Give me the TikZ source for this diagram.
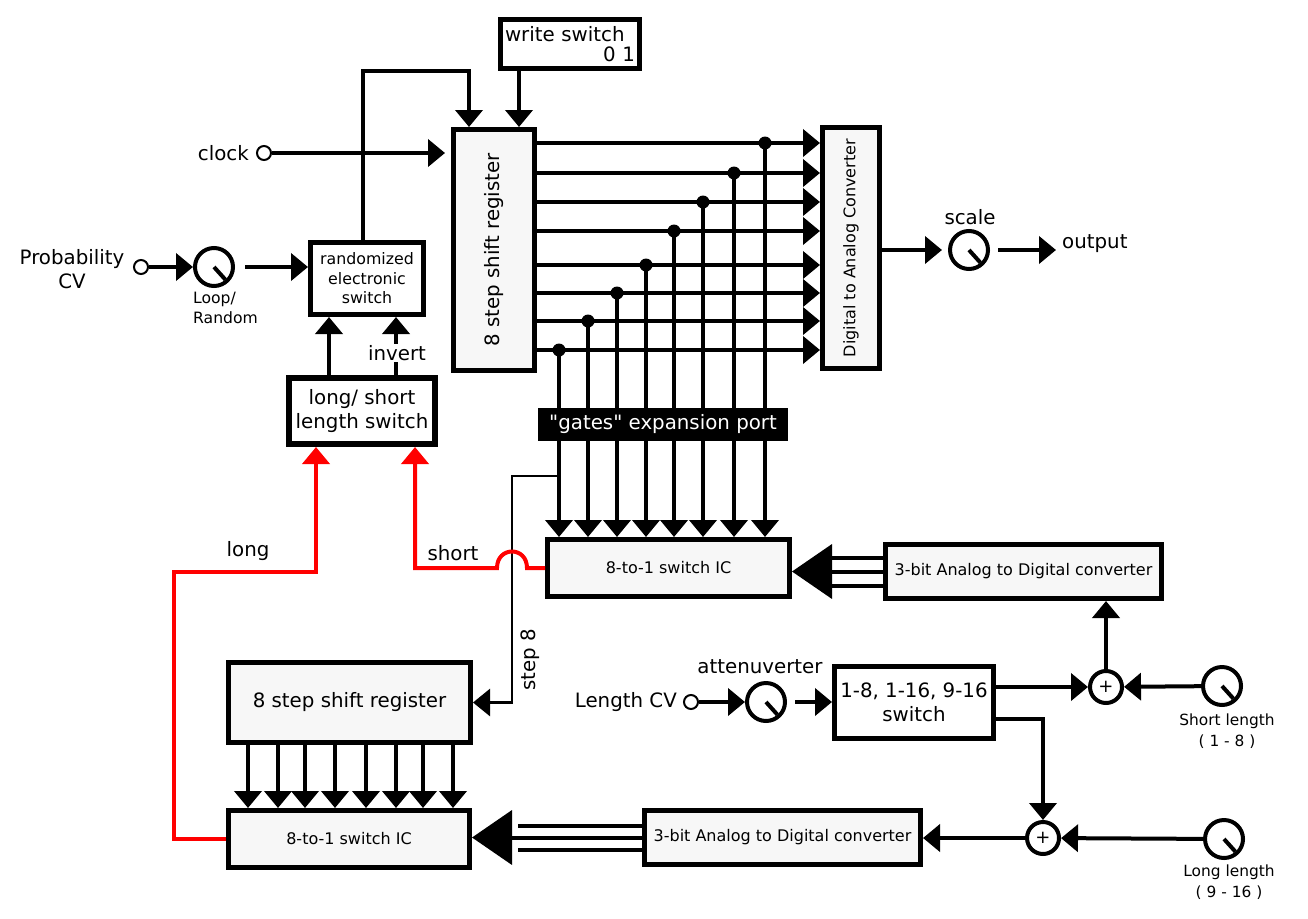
\documentclass[tikz,border=0pt]{standalone}
\usepackage{fontspec}
\setmainfont{DejaVu Sans}
\usetikzlibrary{arrows.meta,calc}
\definecolor{boxgray}{HTML}{F7F7F7}

\begin{document}
\begin{tikzpicture}[x=1pt,y=-1pt,
  box/.style={draw,line width=5pt,fill=boxgray,inner sep=0pt,align=center},
  wbox/.style={box,fill=white},
  bigtext/.style={font=\fontsize{19.8}{24}\selectfont},
  smalltext/.style={font=\fontsize{16}{19.5}\selectfont},
  lbl/.style={bigtext,inner sep=0pt,align=center},
  arrowhead/.style={-{Triangle[length=17pt,width=27pt]}},
  conn/.style={line width=4pt,arrowhead},
  redconn/.style={conn,draw=red},
  tapline/.style={line width=2.7pt,arrowhead},
  bus/.style={line width=4pt},
  bustip/.style={line width=4pt,-{Triangle[length=40pt,width=54pt]}},
  knob/.style={circle,draw,line width=4pt,minimum size=38pt,inner sep=0pt,
    path picture={\draw[line width=4pt] (path picture bounding box.center) -- ++(-48:17pt);}},
  jack/.style={circle,draw,line width=2pt,minimum size=14pt,inner sep=0pt},
  adder/.style={circle,draw,line width=4pt,minimum size=32pt,inner sep=0pt,font=\fontsize{18}{18}\selectfont}]
  \useasboundingbox (0,0) rectangle (1308,918);

  % blocks
  \node[wbox,minimum width=139pt,minimum height=49pt,text width=130pt,align=left,
        font=\fontsize{19.8}{20}\selectfont] (wsw) at (570,44) {write switch\\\hfill 0 1};
  \node[box,minimum width=81pt,minimum height=241pt,
        label={[rotate=90,lbl]center:8 step shift register}] (sr1) at (494,250) {};
  \node[box,minimum width=57pt,minimum height=241pt,
        label={[rotate=90,lbl,smalltext]center:Digital to Analog Converter}] (dac) at (851,248) {};
  \node[wbox,minimum width=113pt,minimum height=72pt,font=\fontsize{15.8}{19.5}\selectfont] (rnd) at (367,278.5) {randomized\\electronic\\switch};
  \node[wbox,line width=6pt,minimum width=146pt,minimum height=66pt,bigtext] (lss) at (362,411) {long/ short\\length switch};
  \node[box,minimum width=242pt,minimum height=57pt,smalltext] (mux1) at (668.5,568) {8-to-1 switch IC};
  \node[box,minimum width=276pt,minimum height=54pt,smalltext] (adc1) at (1023.5,571.5) {3-bit Analog to Digital converter};
  \node[wbox,minimum width=159pt,minimum height=72pt,bigtext] (lsel) at (914,702.5) {1-8, 1-16, 9-16\\switch};
  \node[box,minimum width=242pt,minimum height=80pt,bigtext] (sr2) at (349.5,702.5) {8 step shift register};
  \node[box,minimum width=241pt,minimum height=57pt,smalltext] (mux2) at (349,839) {8-to-1 switch IC};
  \node[box,minimum width=276pt,minimum height=54pt,smalltext] (adc2) at (782.5,837.5) {3-bit Analog to Digital converter};

  % jacks, knobs, adders
  \node[jack] (jclk) at (264,153) {};
  \node[jack] (jprob) at (141,267) {};
  \node[jack] (jlen) at (691,702) {};
  \node[knob] (klr) at (214,267) {};
  \node[knob] (kscale) at (969,250) {};
  \node[knob] (katt) at (766,702) {};
  \node[knob] (kshort) at (1222,686) {};
  \node[knob] (klong) at (1224,839) {};
  \node[adder] (sum1) at (1106,687) {+};
  \node[adder] (sum2) at (1043,838) {+};

  % labels
  \node[lbl,anchor=east] (tclk) at (249,153) {clock};
  \node[lbl] (tprob) at (72,269) {Probability\\CV};
  \node[lbl,anchor=north west,align=left,font=\fontsize{15.6}{20}\selectfont] (tlr) at (193,292) {Loop/\\Random};
  \node[lbl] (tscale) at (970,217) {scale};
  \node[lbl,anchor=west] (tout) at (1062,244) {output};
  \node[lbl] (tlong) at (248,551) {long};
  \node[lbl] (tshort) at (453,553) {short};
  \node[lbl,rotate=90] (tstep) at (530,660) {step 8};
  \node[lbl] (tatt) at (760,667) {attenuverter};
  \node[lbl,anchor=east] (tlen) at (677,702) {Length CV};
  \node[lbl,font=\fontsize{15.4}{21}\selectfont] (tshortk) at (1227,731) {Short length\\( 1 - 8 )};
  \node[lbl,font=\fontsize{15.4}{21}\selectfont] (tlongk) at (1229,882) {Long length\\( 9 - 16 )};

  % top row
  \draw[conn,shorten >=6pt] (jclk) -- (jclk -| sr1.west);
  \draw[conn] ([xshift=-4pt]rnd.north) -- ++(0,-169) -| ([xshift=-25pt]sr1.north);
  \draw[conn] ([xshift=-51pt]wsw.south) -- ([xshift=25pt]sr1.north);
  \draw[conn] (jprob) -- (klr);
  \draw[conn,shorten <=10pt] (klr) -- (klr -| rnd.west);
  \draw[conn] ([xshift=-33pt]lss.north) -- ([xshift=-33pt]lss.north |- rnd.south);
  \draw[conn] ([xshift=34pt]lss.north) -- ([xshift=34pt]lss.north |- rnd.south);
  \node[lbl,fill=white,inner sep=1pt] (tinv) at (397,353) {invert};

  % register outputs, taps to the gates port
  \foreach \y/\xd in {143/765,173/734,202/703,231/674,265/646,293/617,321/588,350/559} {
    \draw[conn] (sr1.east |- 0,\y) -- (dac.west |- 0,\y);
    \draw[conn] (\xd,\y) -- (\xd,0 |- mux1.north);
    \fill (\xd,\y) circle (6.5pt);
  }
  \node[fill=black,text=white,minimum width=250pt,minimum height=33pt,inner sep=0pt,bigtext] (gates) at (663,424.5) {\textquotedbl gates\textquotedbl{} expansion port};
  \coordinate (tap) at (559,476);
  \draw[tapline] (tap) -| ([xshift=39pt]sr2.east) -- (sr2.east);

  % output
  \draw[conn,shorten >=6pt] (dac.east |- kscale) -- (kscale);
  \draw[conn,shorten <=8pt,shorten >=6pt] (kscale) -- (kscale -| tout.west);

  % long / short feedback
  \draw[redconn] (mux2.west) -| (174,572) -| ([xshift=-46pt]lss.south);
  \draw[redconn] (mux1.west) -- (527,568) .. controls (527,546) and (497,546) .. (497,568) -| ([xshift=53pt]lss.south);

  % 3-bit buses
  \draw[bustip] (adc1.west) -- (adc1.west -| mux1.east);
  \draw[bus] ($(adc1.west)+(0,-14)$) -- ++(-52,0);
  \draw[bus] ($(adc1.west)+(0,14)$) -- ++(-52,0);
  \draw[bustip] (adc2.west) -- (adc2.west -| mux2.east);
  \draw[bus] ($(adc2.west)+(0,-12)$) -- ++(-124,0);
  \draw[bus] ($(adc2.west)+(0,12)$) -- ++(-124,0);

  % second register outputs
  \foreach \x in {248,278,305,335,366,396,423,453}
    \draw[conn] (\x,0 |- sr2.south) -- (\x,0 |- mux2.north);

  % length control
  \draw[conn] (jlen) -- (katt);
  \draw[conn,shorten <=8pt] (katt) -- (katt -| lsel.west);
  \draw[conn] (lsel.east |- sum1) -- (sum1);
  \draw[conn] (kshort) -- (sum1);
  \draw[conn] (sum1) -- (sum1 |- adc1.south);
  \draw[conn] ([yshift=-16pt]lsel.east) -| (sum2);
  \draw[conn] (klong) -- (sum2);
  \draw[conn] (sum2) -- (sum2 -| adc2.east);
\end{tikzpicture}
\end{document}
